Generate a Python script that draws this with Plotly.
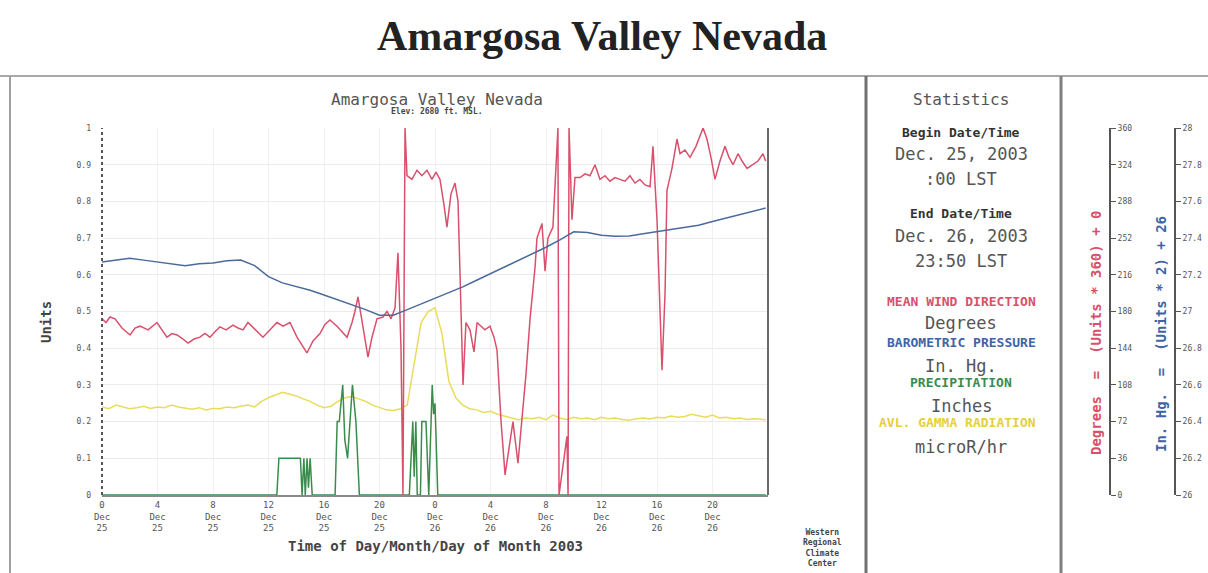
import plotly.graph_objects as go

W, H = 1208, 573

# ---- Mean wind direction (chart units, 1 unit = 360 degrees) ----
wind_hours = [0.00, 0.29, 0.58, 0.94, 1.44, 2.02, 2.38, 2.74, 3.32, 3.96, 4.32, 4.68, 5.05, 5.41,
              5.84, 6.20, 6.63, 7.06, 7.42, 7.78, 8.14, 8.50, 8.94, 9.44, 9.80, 10.16, 10.52, 11.03,
              11.60, 12.11, 12.61, 13.05, 13.55, 14.05, 14.41, 14.77, 15.21, 15.71, 16.07, 16.43,
              16.94, 17.30, 17.66, 18.02, 18.23, 18.45, 18.74, 18.95, 19.17, 19.46, 19.82, 20.25,
              20.54, 20.83, 21.12, 21.33, 21.55, 21.69, 21.84, 21.98, 22.34, 22.70, 23.06, 23.42,
              23.78, 24.07, 24.36, 24.65, 24.86, 25.15, 25.44, 25.66, 26.02, 26.23, 26.52, 26.81,
              27.03, 27.32, 27.60, 27.96, 28.25, 28.47, 28.76, 29.05, 29.33, 29.62, 29.98, 30.27,
              30.56, 30.85, 31.21, 31.35, 31.71, 31.93, 32.14, 32.50, 32.86, 32.94, 33.51, 33.59,
              33.66, 33.87, 34.09, 34.45, 34.81, 35.17, 35.53, 35.89, 36.25, 36.61, 36.97, 37.33,
              37.69, 38.05, 38.41, 38.77, 39.14, 39.50, 39.71, 40.00, 40.22, 40.36, 40.58, 40.72,
              41.08, 41.44, 41.66, 42.02, 42.38, 42.81, 43.32, 43.60, 43.89, 44.18, 44.54, 44.90,
              45.19, 45.48, 45.84, 46.13, 46.49, 46.92, 47.28, 47.64, 47.83]
wind_units = [0.48, 0.47, 0.485, 0.48, 0.455, 0.436, 0.455, 0.46, 0.45, 0.47, 0.45, 0.43, 0.44, 0.436,
              0.425, 0.414, 0.425, 0.43, 0.44, 0.43, 0.445, 0.458, 0.45, 0.463, 0.455, 0.45, 0.47, 0.45,
              0.43, 0.45, 0.47, 0.46, 0.47, 0.43, 0.41, 0.387, 0.42, 0.44, 0.465, 0.477,
              0.46, 0.445, 0.43, 0.47, 0.50, 0.54, 0.477, 0.42, 0.376, 0.43, 0.48, 0.485,
              0.50, 0.48, 0.51, 0.66, 0.40, 0.0, 1.0, 0.87, 0.86, 0.885, 0.87, 0.885,
              0.86, 0.88, 0.86, 0.79, 0.73, 0.82, 0.85, 0.80, 0.30, 0.47, 0.45, 0.39,
              0.47, 0.46, 0.45, 0.46, 0.43, 0.395, 0.20, 0.055, 0.12, 0.20, 0.087, 0.21,
              0.33, 0.48, 0.62, 0.70, 0.74, 0.61, 0.70, 0.73, 1.0, 0.0, 0.16, 0.0,
              1.0, 0.75, 0.865, 0.865, 0.875, 0.87, 0.90, 0.86, 0.87, 0.855, 0.865, 0.86,
              0.855, 0.87, 0.85, 0.86, 0.845, 0.84, 0.95, 0.75, 0.50, 0.34, 0.55, 0.83,
              0.89, 0.97, 0.93, 0.94, 0.92, 0.95, 1.0, 0.97, 0.92, 0.86, 0.91, 0.95,
              0.92, 0.90, 0.93, 0.91, 0.89, 0.90, 0.91, 0.93, 0.91]

# ---- Barometric pressure (chart units, In. Hg. = units * 2 + 26) ----
pres_hours = [0, 1, 2, 3, 4, 5, 6, 7, 8, 9, 10, 11, 12, 13, 14, 15, 16, 17, 18, 19, 20, 21, 22, 23,
              24, 25, 26, 27, 28, 29, 30, 31, 32, 33, 34, 35, 36, 37, 38, 39, 40, 41, 42, 43, 44,
              45, 46, 47, 47.83]
pres_units = [0.635, 0.64, 0.645, 0.64, 0.635, 0.628, 0.625, 0.63, 0.632, 0.638, 0.64, 0.625,
              0.595, 0.578, 0.568, 0.558, 0.545, 0.532, 0.518, 0.505, 0.49, 0.49, 0.505, 0.52,
              0.535, 0.55, 0.567, 0.585, 0.603, 0.62, 0.638, 0.656, 0.675, 0.695, 0.717, 0.715,
              0.708, 0.705, 0.706, 0.712, 0.718, 0.722, 0.728, 0.735, 0.745, 0.755, 0.765,
              0.775, 0.782]

# ---- Average gamma radiation (chart units), half-hourly ----
gamma_hours = [0, 0.5, 1, 1.5, 2, 2.5, 3, 3.5, 4, 4.5, 5, 5.5, 6, 6.5, 7, 7.5, 8, 8.5, 9, 9.5,
               10, 10.5, 11, 11.5, 12, 12.5, 13, 13.5, 14, 14.5, 15, 15.5, 16, 16.5, 17, 17.5,
               18, 18.5, 19, 19.5, 20, 20.5, 21, 21.5, 22, 22.5, 23, 23.5, 24, 24.5, 25, 25.5,
               26, 26.5, 27, 27.5, 28, 28.5, 29, 29.5, 30, 30.5, 31, 31.5, 32, 32.5, 33, 33.5,
               34, 34.5, 35, 35.5, 36, 36.5, 37, 37.5, 38, 38.5, 39, 39.5, 40, 40.5, 41, 41.5,
               42, 42.5, 43, 43.5, 44, 44.5, 45, 45.5, 46, 46.5, 47, 47.5, 47.83]
gamma_units = [0.24, 0.235, 0.245, 0.24, 0.235, 0.238, 0.242, 0.236, 0.24, 0.238, 0.245, 0.24,
               0.236, 0.234, 0.238, 0.232, 0.236, 0.235, 0.24, 0.238, 0.242, 0.245, 0.24, 0.255,
               0.265, 0.272, 0.28, 0.275, 0.27, 0.262, 0.255, 0.245, 0.238, 0.242, 0.255, 0.265,
               0.268, 0.262, 0.255, 0.245, 0.238, 0.232, 0.23, 0.235, 0.245, 0.36, 0.47, 0.50,
               0.51, 0.44, 0.31, 0.265, 0.245, 0.235, 0.232, 0.225, 0.228, 0.22, 0.215, 0.21,
               0.205, 0.21, 0.208, 0.212, 0.205, 0.218, 0.21, 0.206, 0.212, 0.208, 0.21, 0.205,
               0.212, 0.208, 0.21, 0.206, 0.204, 0.208, 0.21, 0.207, 0.212, 0.21, 0.215, 0.212,
               0.214, 0.22, 0.215, 0.212, 0.218, 0.21, 0.212, 0.208, 0.21, 0.206, 0.208, 0.205,
               0.205]

# ---- Precipitation (chart units) ----
precip_hours = [0, 12.6, 12.75, 14.3, 14.42, 14.55, 14.65, 14.78, 14.88, 15.0, 15.15, 16.8, 16.95,
                17.1, 17.35, 17.5, 17.7, 17.85, 18.05, 18.3, 18.55, 22.15, 22.4, 22.5, 22.62,
                22.72, 22.95, 23.05, 23.35, 23.55, 23.8, 23.9, 24.0, 24.2, 47.83]
precip_units = [0, 0, 0.1, 0.1, 0, 0.1, 0, 0.1, 0.02, 0.1, 0, 0, 0.2,
                0.2, 0.3, 0.15, 0.1, 0.2, 0.3, 0.2, 0, 0, 0.2, 0.05, 0.2,
                0, 0, 0.2, 0.2, 0, 0.3, 0.22, 0.25, 0, 0]

# ---- Axis ticks ----
x_tick_hours = [0, 4, 8, 12, 16, 20, 24, 28, 32, 36, 40, 44]
x_tick_text = ["0<br>Dec<br>25", "4<br>Dec<br>25", "8<br>Dec<br>25", "12<br>Dec<br>25",
               "16<br>Dec<br>25", "20<br>Dec<br>25", "0<br>Dec<br>26", "4<br>Dec<br>26",
               "8<br>Dec<br>26", "12<br>Dec<br>26", "16<br>Dec<br>26", "20<br>Dec<br>26"]
unit_ticks = [0, 0.1, 0.2, 0.3, 0.4, 0.5, 0.6, 0.7, 0.8, 0.9, 1]
unit_labels = ["0", "0.1", "0.2", "0.3", "0.4", "0.5", "0.6", "0.7", "0.8", "0.9", "1"]
deg_ticks = [0, 36, 72, 108, 144, 180, 216, 252, 288, 324, 360]
inhg_ticks = [26, 26.2, 26.4, 26.6, 26.8, 27, 27.2, 27.4, 27.6, 27.8, 28]
inhg_labels = ["26", "26.2", "26.4", "26.6", "26.8", "27", "27.2", "27.4", "27.6", "27.8", "28"]

RED = "#d9506c"
BLUE = "#4a6a9c"
GREEN = "#3a8c4c"
YELLOW = "#e9dc5a"
MONO = "DejaVu Sans Mono"
GREY_TXT = "#555555"

wind_deg = [u * 360 for u in wind_units]
pres_inhg = [u * 2 + 26 for u in pres_units]

fig = go.Figure()
fig.add_trace(go.Scatter(x=gamma_hours, y=gamma_units, mode="lines",
                         line=dict(color=YELLOW, width=1.5), xaxis="x", yaxis="y"))
fig.add_trace(go.Scatter(x=precip_hours, y=precip_units, mode="lines",
                         line=dict(color=GREEN, width=1.5), xaxis="x", yaxis="y"))
fig.add_trace(go.Scatter(x=wind_hours, y=wind_deg, mode="lines",
                         line=dict(color=RED, width=1.5), xaxis="x", yaxis="y2"))
fig.add_trace(go.Scatter(x=pres_hours, y=pres_inhg, mode="lines",
                         line=dict(color=BLUE, width=1.5), xaxis="x", yaxis="y3"))

x0, x1 = 102 / W, 768 / W
y0, y1 = 1 - 495 / H, 1 - 128 / H

fig.update_layout(
    width=W, height=H, autosize=False,
    margin=dict(l=0, r=0, t=0, b=0),
    paper_bgcolor="white", plot_bgcolor="white",
    showlegend=False,
    xaxis=dict(domain=[x0, x1], range=[0, 48], tickvals=x_tick_hours, ticktext=x_tick_text,
               showgrid=True, gridcolor="#f1f1f1", zeroline=False,
               showline=True, linecolor="#8a8a8a", linewidth=2, ticks="",
               tickfont=dict(family=MONO, size=9, color=GREY_TXT), automargin=False),
    yaxis=dict(domain=[y0, y1], range=[0, 1], tickvals=unit_ticks, ticktext=unit_labels,
               showgrid=True, gridcolor="#ebebeb", zeroline=False, showline=False, ticks="",
               ticklabelstandoff=10,
               tickfont=dict(family=MONO, size=8, color=GREY_TXT), automargin=False),
    yaxis2=dict(overlaying="y", anchor="free", position=1110 / W, side="right",
                range=[0, 360], tickvals=deg_ticks, showgrid=False, zeroline=False,
                showline=True, linecolor="#555", linewidth=2, ticks="outside", ticklen=5,
                tickcolor="#555", tickfont=dict(family=MONO, size=8, color=GREY_TXT),
                automargin=False),
    yaxis3=dict(overlaying="y", anchor="free", position=1175 / W, side="right",
                range=[26, 28], tickvals=inhg_ticks, ticktext=inhg_labels, showgrid=False,
                zeroline=False, showline=True, linecolor="#555", linewidth=2, ticks="outside",
                ticklen=5, tickcolor="#555", tickfont=dict(family=MONO, size=8, color=GREY_TXT),
                automargin=False),
)

# frame lines of the page panels
top_y = 1 - 76 / H
shapes = [
    dict(type="line", xref="paper", yref="paper", x0=0, x1=1, y0=top_y, y1=top_y,
         line=dict(color="#a8a8a8", width=2)),
    dict(type="line", xref="paper", yref="paper", x0=10 / W, x1=10 / W, y0=0, y1=top_y,
         line=dict(color="#a0a0a0", width=2)),
    dict(type="line", xref="paper", yref="paper", x0=866 / W, x1=866 / W, y0=0, y1=top_y,
         line=dict(color="#707070", width=3)),
    dict(type="line", xref="paper", yref="paper", x0=1061 / W, x1=1061 / W, y0=0, y1=top_y,
         line=dict(color="#808080", width=3)),
    # plot frame: dotted left axis, solid right edge
    dict(type="line", xref="x domain", yref="y domain", x0=0, x1=0, y0=0, y1=1,
         line=dict(color="#555", width=2, dash="dot")),
    dict(type="line", xref="x domain", yref="y domain", x0=1, x1=1, y0=0, y1=1,
         line=dict(color="#6a6a6a", width=2)),
]
fig.update_layout(shapes=shapes)


def txt(x, y, text, size, color=GREY_TXT, bold=False, family=MONO, angle=0, xanchor="center"):
    t = f"<b>{text}</b>" if bold else text
    return dict(x=x / W, y=1 - y / H, xref="paper", yref="paper", text=t, showarrow=False,
                font=dict(family=family, size=size, color=color), textangle=angle,
                xanchor=xanchor, yanchor="middle")


cx = 961
annotations = [
    txt(602, 36, "Amargosa Valley Nevada", 42, color="#222", bold=True, family="Liberation Serif"),
    txt(437, 99, "Amargosa Valley Nevada", 16),
    txt(437, 111, "Elev: 2680 ft. MSL.", 8, bold=True, color="#444"),
    txt(435, 546, "Time of Day/Month/Day of Month 2003", 14, bold=True, color="#444"),
    txt(46, 322, "Units", 14, bold=True, color="#444", angle=-90),
    dict(x=822 / W, y=1 - 526 / H, xref="paper", yref="paper",
         text="<b>Western<br>Regional<br>Climate<br>Center</b>", showarrow=False,
         font=dict(family=MONO, size=8, color="#444"), xanchor="center", yanchor="top"),
    txt(cx, 99, "Statistics", 16),
    txt(cx, 132, "Begin Date/Time", 13, bold=True, color="#333"),
    txt(cx, 154, "Dec. 25, 2003", 17),
    txt(cx, 179, ":00 LST", 17),
    txt(cx, 213, "End Date/Time", 13, bold=True, color="#333"),
    txt(cx, 236, "Dec. 26, 2003", 17),
    txt(cx, 261, "23:50 LST", 17),
    txt(cx, 301, "MEAN WIND DIRECTION", 13, color=RED, bold=True),
    txt(cx, 323, "Degrees", 17),
    txt(cx, 342, "BAROMETRIC PRESSURE", 13, color="#3f63a8", bold=True),
    txt(cx, 366, "In. Hg.", 17),
    txt(cx, 382, "PRECIPITATION", 13, color=GREEN, bold=True),
    txt(cx, 406, "Inches", 17),
    txt(cx - 4, 423, "AVL. GAMMA RADIATION", 13, color="#e6cf3c", bold=True),
    txt(cx, 447, "microR/hr", 17),
    txt(1096, 333, "Degrees  =  (Units * 360) + 0", 14, color=RED, bold=True, angle=-90),
    txt(1161, 334, "In. Hg.  =  (Units * 2) + 26", 14, color="#3f63a8", bold=True, angle=-90),
]
fig.update_layout(annotations=annotations)

fig.write_html("out.html")
